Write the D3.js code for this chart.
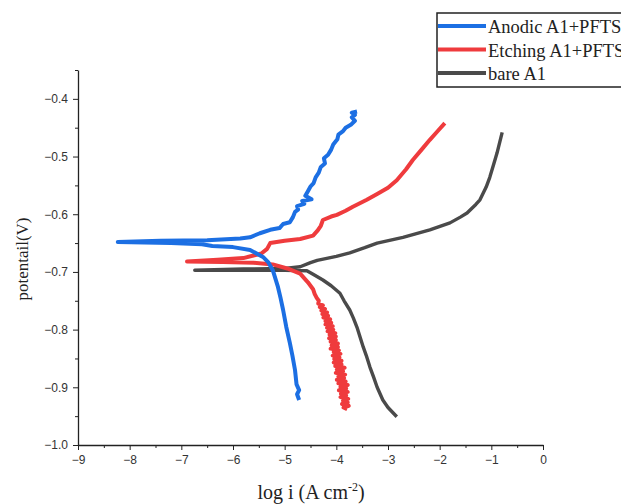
<!DOCTYPE html>
<html>
<head>
<meta charset="utf-8">
<script src="https://cdn.jsdelivr.net/npm/d3@7"></script>
<style>
    body { margin: 0; background: #fff; }
    .axis text { font-family: "Liberation Sans", Arial, sans-serif; font-size: 12px; fill: #333; }
    .axis path, .axis line { stroke: #222; }
    .label { font-family: "Liberation Serif", "Times New Roman", serif; fill: #222; }
</style>
</head>
<body>
<div id="chart"></div>
<script>
// log i vs potential (cathodic end -> Ecorr spike -> anodic end)
var anodic = [[-4.72,-0.922],[-4.76,-0.912],[-4.72,-0.905],[-4.77,-0.895],[-4.80,-0.870],[-4.85,-0.845],
    [-4.90,-0.823],[-4.97,-0.795],[-5.03,-0.766],[-5.08,-0.745],[-5.13,-0.726],[-5.23,-0.697],[-5.32,-0.683],
    [-5.42,-0.674],[-5.67,-0.662],[-6.0,-0.657],[-6.4,-0.655],[-6.6,-0.652],[-7.2,-0.650],[-8.23,-0.648],
    [-7.4,-0.646],[-6.5,-0.645],[-5.86,-0.642],[-5.67,-0.640],[-5.48,-0.633],[-5.28,-0.627],[-5.10,-0.624],
    [-5.03,-0.617],[-4.90,-0.614],[-4.84,-0.605],[-4.80,-0.596],[-4.74,-0.592],[-4.76,-0.586],[-4.62,-0.582],
    [-4.66,-0.577],[-4.48,-0.574],[-4.60,-0.568],[-4.55,-0.560],[-4.50,-0.552],[-4.44,-0.546],[-4.40,-0.536],
    [-4.34,-0.528],[-4.30,-0.518],[-4.22,-0.512],[-4.24,-0.503],[-4.16,-0.497],[-4.10,-0.488],[-4.06,-0.479],
    [-3.98,-0.470],[-3.96,-0.462],[-3.87,-0.456],[-3.82,-0.450],[-3.72,-0.445],[-3.64,-0.438],[-3.70,-0.432],
    [-3.64,-0.428],[-3.70,-0.424],[-3.60,-0.422]];
var etching = [[-3.79,-0.938],[-3.86,-0.935],[-3.76,-0.932],[-3.89,-0.929],[-3.78,-0.926],[-3.87,-0.923],
    [-3.77,-0.920],[-3.92,-0.917],[-3.81,-0.914],[-3.91,-0.911],[-3.78,-0.908],[-3.95,-0.905],[-3.81,-0.902],
    [-3.92,-0.899],[-3.78,-0.896],[-3.96,-0.893],[-3.82,-0.890],[-3.99,-0.887],[-3.85,-0.884],[-3.96,-0.881],
    [-3.83,-0.878],[-4.01,-0.875],[-3.87,-0.872],[-3.99,-0.869],[-3.84,-0.866],[-4.02,-0.863],[-3.90,-0.860],
    [-4.05,-0.857],[-3.90,-0.854],[-4.04,-0.851],[-3.94,-0.848],[-4.07,-0.845],[-3.92,-0.842],[-4.05,-0.839],
    [-3.95,-0.836],[-4.11,-0.833],[-3.97,-0.830],[-4.09,-0.827],[-3.97,-0.824],[-4.11,-0.821],[-4.01,-0.818],
    [-4.14,-0.815],[-4.01,-0.812],[-4.13,-0.809],[-4.02,-0.806],[-4.17,-0.803],[-4.06,-0.800],[-4.18,-0.797],
    [-4.07,-0.794],[-4.21,-0.791],[-4.10,-0.788],[-4.21,-0.785],[-4.12,-0.782],[-4.25,-0.779],[-4.16,-0.776],
    [-4.27,-0.773],[-4.18,-0.770],[-4.29,-0.767],[-4.22,-0.764],[-4.32,-0.761],[-4.26,-0.758],[-4.35,-0.755],
    [-4.34,-0.750],[-4.38,-0.745],[-4.42,-0.738],[-4.45,-0.730],[-4.55,-0.718],[-4.70,-0.703],[-4.95,-0.694],
    [-5.23,-0.687],[-5.6,-0.684],[-6.2,-0.683],[-6.89,-0.682],[-6.3,-0.679],[-5.8,-0.676],[-5.45,-0.668],
    [-5.34,-0.660],[-5.28,-0.650],[-5.0,-0.646],[-4.70,-0.643],[-4.45,-0.637],[-4.36,-0.628],[-4.30,-0.620],
    [-4.26,-0.610],[-4.10,-0.604],[-3.99,-0.601],[-3.82,-0.594],[-3.68,-0.587],[-3.41,-0.575],[-3.21,-0.565],
    [-3.00,-0.554],[-2.83,-0.541],[-2.65,-0.522],[-2.52,-0.506],[-2.35,-0.488],[-2.19,-0.471],[-2.05,-0.457],
    [-1.90,-0.442]];
var bare = [[-2.83,-0.951],[-3.00,-0.935],[-3.10,-0.922],[-3.21,-0.900],[-3.28,-0.882],[-3.35,-0.865],
    [-3.42,-0.845],[-3.48,-0.830],[-3.55,-0.810],[-3.60,-0.796],[-3.67,-0.780],[-3.74,-0.766],[-3.85,-0.750],
    [-3.93,-0.737],[-4.10,-0.724],[-4.26,-0.714],[-4.45,-0.704],[-4.57,-0.698],[-5.0,-0.697],[-5.6,-0.697],
    [-6.74,-0.697],[-5.8,-0.695],[-5.0,-0.694],[-4.70,-0.691],[-4.50,-0.684],[-4.37,-0.680],[-4.0,-0.673],
    [-3.74,-0.667],[-3.45,-0.658],[-3.21,-0.650],[-2.71,-0.640],[-2.19,-0.627],[-1.80,-0.615],[-1.60,-0.605],
    [-1.47,-0.598],[-1.30,-0.583],[-1.22,-0.575],[-1.10,-0.553],[-1.03,-0.536],[-0.95,-0.512],[-0.89,-0.494],
    [-0.79,-0.458]];

var names = ['Anodic A1+PFTS', 'Etching A1+PFTS', 'bare A1'];
var colors = ['#1c6fe3', '#ef3b3d', '#4a4a4a'];
var xTicks = [-9, -8, -7, -6, -5, -4, -3, -2, -1, 0];
var yTicks = [-1.0, -0.9, -0.8, -0.7, -0.6, -0.5, -0.4];

var width = 621, height = 504;

var svg = d3.select('#chart').append('svg')
    .attr('width', width)
    .attr('height', height);

var x = d3.scaleLinear().domain([-9, 0]).range([78, 543]);
var y = d3.scaleLinear().domain([-1.0, -0.35]).range([445, 70]);

// minor ticks first, majors on top
svg.append('g')
    .attr('class', 'axis')
    .attr('transform', 'translate(0,445)')
    .call(d3.axisBottom(x).tickValues(d3.range(-8.5, 0, 1)).tickSize(3).tickFormat(''))
    .select('.domain').remove();

svg.append('g')
    .attr('class', 'axis')
    .attr('transform', 'translate(78,0)')
    .call(d3.axisLeft(y).tickValues([-0.95, -0.85, -0.75, -0.65, -0.55, -0.45, -0.35]).tickSize(3).tickFormat(''))
    .select('.domain').remove();

svg.append('g')
    .attr('class', 'axis')
    .attr('transform', 'translate(0,445)')
    .call(d3.axisBottom(x).tickValues(xTicks).tickSize(5).tickSizeOuter(0).tickPadding(5).tickFormat(d3.format('d')));

svg.append('g')
    .attr('class', 'axis')
    .attr('transform', 'translate(78,0)')
    .call(d3.axisLeft(y).tickValues(yTicks).tickSize(5).tickSizeOuter(0).tickPadding(5).tickFormat(d3.format('.1f')));

svg.selectAll('.axis .domain').attr('stroke-width', 1.3);

var line = d3.line()
    .x(d => x(d[0]))
    .y(d => y(d[1]));

[bare, etching, anodic].forEach((s, i) => {
    svg.append('path')
        .datum(s)
        .attr('fill', 'none')
        .attr('stroke', colors[2 - i])
        .attr('stroke-width', i === 0 ? 3.4 : 4)
        .attr('stroke-linejoin', 'round')
        .attr('d', line);
});

// axis titles
svg.append('text')
    .attr('class', 'label')
    .attr('transform', 'translate(28,259) rotate(-90)')
    .attr('text-anchor', 'middle')
    .style('font-size', '17px')
    .text('potentail(V)');

var xl = svg.append('text')
    .attr('class', 'label')
    .attr('x', 311)
    .attr('y', 499)
    .attr('text-anchor', 'middle')
    .style('font-size', '20px');
xl.append('tspan').text('log i (A cm');
xl.append('tspan').attr('dy', -8).style('font-size', '12px').text('-2');
xl.append('tspan').attr('dy', 8).text(')');

// legend (the reference crops it at the right edge too)
var legend = svg.append('g');
legend.append('rect')
    .attr('x', 437).attr('y', 13)
    .attr('width', 200).attr('height', 74)
    .attr('fill', '#fff')
    .attr('stroke', '#222')
    .attr('stroke-width', 1.5);

names.forEach((n, i) => {
    var ly = 26 + i * 23.5;
    legend.append('line')
        .attr('x1', 438).attr('x2', 486)
        .attr('y1', ly).attr('y2', ly)
        .attr('stroke', colors[i])
        .attr('stroke-width', 4);
    legend.append('text')
        .attr('class', 'label')
        .attr('x', 488)
        .attr('y', ly + 7)
        .style('font-size', '18.5px')
        .text(n);
});
</script>
</body>
</html>
